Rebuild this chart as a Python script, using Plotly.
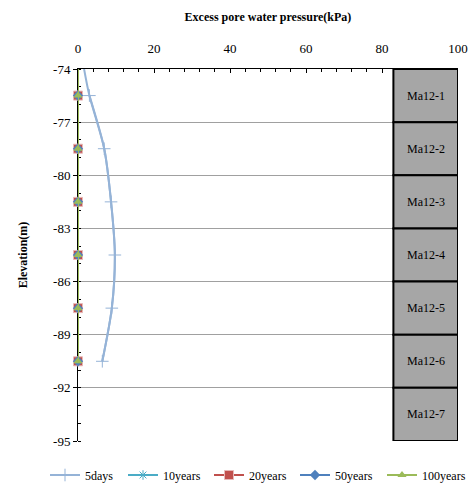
import plotly.graph_objects as go

# Elevations of the observation points (m); the first one is the top of the layer column
elevation = [-74, -75.5, -78.5, -81.5, -84.5, -87.5, -90.5]

# Excess pore water pressure (kPa) for each time step
p_5days = [1.6, 3.0, 6.9, 8.7, 9.7, 8.9, 6.4]
p_10years = [0, 0, 0, 0, 0, 0, 0]
p_20years = [0, 0, 0, 0, 0, 0, 0]
p_50years = [0, 0, 0, 0, 0, 0, 0]
p_100years = [0, 0, 0, 0, 0, 0, 0]

# Soil layers of the column on the right
layer_names = ["Ma12-1", "Ma12-2", "Ma12-3", "Ma12-4", "Ma12-5", "Ma12-6", "Ma12-7"]
layer_top = [-74, -77, -80, -83, -86, -89, -92]
layer_bottom = [-77, -80, -83, -86, -89, -92, -95]
column_left = 83
column_right = 100

y_ticks = [-74, -77, -80, -83, -86, -89, -92, -95]
y_tick_labels = ["-74", "-77", "-80", "-83", "-86", "-89", "-92", "-95"]
x_ticks = [0, 20, 40, 60, 80, 100]

FONT = "Liberation Serif"
W, H = 473, 486

series = [
    ("5days", p_5days, "#95B3D7", dict(symbol="cross-thin", size=9, line=dict(width=1, color="#95B3D7")), "spline"),
    ("10years", p_10years, "#4BACC6", dict(symbol="asterisk", size=8, line=dict(width=1, color="#4BACC6")), "linear"),
    ("20years", p_20years, "#C0504D", dict(symbol="square", size=9, color="#C0504D", line=dict(width=1, color="#E6B9B8")), "linear"),
    ("50years", p_50years, "#4F81BD", dict(symbol="diamond", size=8, color="#4F81BD"), "linear"),
    ("100years", p_100years, "#9BBB59", dict(symbol="triangle-up", size=8, color="#9BBB59"), "linear"),
]

# left edge (px) of each legend entry along the bottom row
legend_left_px = [45, 123, 209, 295, 382]

fig = go.Figure()
legend_layout = {}
for i, (name, vals, color, marker, shape) in enumerate(series):
    legend_id = "legend" if i == 0 else f"legend{i + 1}"
    # full curve including the top point (no marker there)
    fig.add_trace(go.Scatter(
        x=vals, y=elevation, mode="lines", showlegend=False, hoverinfo="skip",
        line=dict(color=color, width=2, shape=shape, smoothing=0.8),
        cliponaxis=False,
    ))
    # measured points with markers
    fig.add_trace(go.Scatter(
        x=vals[1:], y=elevation[1:], name=name, mode="lines+markers",
        line=dict(color=color, width=2, shape=shape, smoothing=0.8),
        marker=marker, cliponaxis=False, legend=legend_id,
    ))
    legend_layout[legend_id] = dict(
        orientation="h", x=legend_left_px[i] / W, xanchor="left", xref="container",
        y=11 / H, yanchor="middle", yref="container",
        font=dict(family=FONT, size=12), itemwidth=30,
        bgcolor="rgba(0,0,0,0)",
    )

# Layer column
for name, top, bot in zip(layer_names, layer_top, layer_bottom):
    fig.add_shape(type="rect", xref="x", yref="y", x0=column_left, x1=column_right,
                  y0=bot, y1=top, fillcolor="#A6A6A6",
                  line=dict(color="black", width=2), layer="above")
    fig.add_annotation(x=(column_left + column_right) / 2, y=(top + bot) / 2,
                       xref="x", yref="y", text=name, showarrow=False,
                       font=dict(family=FONT, size=12, color="black"))

fig.update_layout(
    width=W, height=H,
    margin=dict(l=78, r=15, t=69, b=45, autoexpand=False),
    paper_bgcolor="white", plot_bgcolor="white",
    font=dict(family=FONT, size=13, color="black"),
    showlegend=True,
    **legend_layout,
)

fig.update_xaxes(
    side="top", range=[0, 100], tickvals=x_ticks, ticks="inside", ticklen=4,
    tickcolor="black", showline=True, linecolor="black", linewidth=1,
    showgrid=False, zeroline=False, ticklabelstandoff=10,
    minor=dict(dtick=4, ticks="inside", ticklen=3, tickcolor="black"),
    tickfont=dict(family=FONT, size=13),
    title=dict(text="<b>Excess pore water pressure(kPa)</b>", standoff=16,
               font=dict(family=FONT, size=12)),
)

fig.update_yaxes(
    range=[-95, -74], tickvals=y_ticks, ticktext=y_tick_labels,
    ticks="outside", ticklen=4, layer="below traces",
    tickcolor="black", showline=True, linecolor="black", linewidth=1,
    showgrid=True, gridcolor="#A0A0A0", gridwidth=1, zeroline=False,
    minor=dict(dtick=1, ticks="inside", ticklen=3, tickcolor="black"),
    tickfont=dict(family=FONT, size=13),
    title=dict(text="<b>Elevation(m)</b>", standoff=22,
               font=dict(family=FONT, size=12)),
)

fig.write_html("out.html")
